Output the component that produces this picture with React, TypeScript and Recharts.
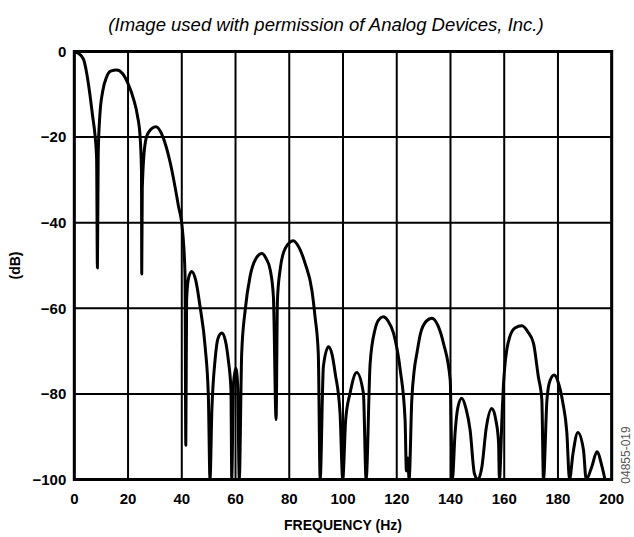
import React from 'react';
import {
    CartesianGrid,
    Line,
    LineChart,
    ReferenceArea,
    XAxis,
    YAxis,
} from 'recharts';

// frequency (Hz) and response (dB)
const freqs = [
    0, 1.5, 3.4, 4.6, 5.8, 6.8, 7.7, 8.3, 8.6, 8.9, 9.5, 10.5, 12, 13.5, 15.8, 18, 20, 22, 23.5, 24.5,
    25, 25.1, 25.3, 26.3, 27.5, 30.4, 33, 35.6, 38.7, 40.3, 41.2, 41.5, 41.8, 42.5, 43.7, 45.2, 46.8, 48.7, 49.9, 50.5,
    51.2, 52.4, 53.5, 54.9, 56.2, 57.3, 58.3, 58.6, 59.2, 60.1, 60.8, 61.4, 62.3, 63.6, 65.4, 67.5, 69.8, 71.5, 72.9, 74.1,
    75.1, 75.6, 76.6, 78.5, 81.5, 83.8, 85.9, 88.4, 89.6, 90.8, 91.5, 92.7, 94.6, 96, 97.1, 98.9, 99.9, 101, 102.6, 105.1,
    107.6, 108.6, 110.1, 111.9, 113.3, 115, 116.8, 118.8, 121.3, 123.1, 123.6, 124.1, 124.6, 125.6, 126.5, 127.5, 128.8, 131, 133.1, 135.3,
    137.4, 139.9, 140.7, 141.7, 142.8, 144.2, 145.8, 147.3, 148.9, 150.2, 151.7, 153.3, 155.4, 157, 157.9, 158.2, 159.2, 159.7, 160.3, 161,
    162, 164, 166.6, 168.8, 170.9, 172.7, 174, 174.6, 175.9, 177, 178.6, 180.2, 181.8, 183.3, 184.3, 185.6, 187.4, 189.5, 190.5, 192.6,
    194.5, 196.4, 197.5,
];
const gains = [
    0, -0.4, -1.8, -5, -10, -15, -19.5, -25, -50.6, -24, -15, -9.5, -6, -4.6, -4.3, -5.2, -7.5, -11, -15, -20,
    -28, -52, -32, -21.8, -19, -17.6, -20, -25.7, -35.9, -42, -52, -92, -58, -53, -51.4, -53.5, -59.6, -69, -80.7, -100,
    -83.8, -72, -67, -65.8, -67.5, -72, -79, -100, -78, -74, -78, -100, -70.5, -60.4, -52.6, -48.5, -47.2, -48.5, -51, -57.3,
    -86, -58, -51, -46, -44.2, -46, -49.5, -55.7, -62, -70.5, -100, -73.6, -69, -71, -75.2, -84.5, -100, -86, -79.9, -75,
    -79.9, -100, -72.9, -65, -62.7, -62, -63, -65.8, -74.4, -86, -98, -95, -100, -81.4, -74.5, -70.5, -66, -63, -62.3, -64,
    -68.2, -76.8, -100, -89.2, -83, -81, -83.5, -88.4, -98.6, -100, -97, -88, -83.4, -86.5, -91.5, -100, -85, -78, -73, -69.5,
    -66.8, -64.6, -64.1, -65.5, -68.2, -76, -81.4, -100, -81.4, -77, -75.6, -77.5, -82, -89, -100, -93.9, -89, -93.1, -100, -97,
    -93.5, -97, -100,
];

const xTicks = [0, 20, 40, 60, 80, 100, 120, 140, 160, 180, 200];
const yTicks = [0, -20, -40, -60, -80, -100];

const data = freqs.map((f, i) => ({f, db: gains[i]}));

const font = 'Liberation Sans, Arial, Helvetica, sans-serif';

const dbFormatter = (v: number) => (v < 0 ? `\u2212${-v}` : `${v}`);

export default function App() {
    return (
        <div style={{position: 'absolute', left: 0, top: 0, width: 634, height: 537, background: '#fff'}}>
            <LineChart
                width={634}
                height={537}
                data={data}
                margin={{top: 51.5, right: 22.3, bottom: 27.5, left: 0}}
            >
                <CartesianGrid stroke="#000" strokeWidth={2} horizontalValues={yTicks} verticalValues={xTicks}/>
                <XAxis
                    dataKey="f"
                    type="number"
                    domain={[0, 200]}
                    ticks={xTicks}
                    height={30}
                    axisLine={false}
                    tickLine={false}
                    tickMargin={8}
                    tick={{fill: '#000', fontSize: 15, fontWeight: 700, fontFamily: font}}
                />
                <YAxis
                    type="number"
                    domain={[-100, 0]}
                    ticks={yTicks}
                    width={74.3}
                    allowDataOverflow
                    axisLine={false}
                    tickLine={false}
                    tickFormatter={dbFormatter}
                    tick={{fill: '#000', fontSize: 15, fontWeight: 700, fontFamily: font}}
                />
                <ReferenceArea x1={0} x2={200} y1={-100} y2={0} fill="none" stroke="#000" strokeWidth={3}/>
                <Line
                    dataKey="db"
                    type="monotone"
                    stroke="#000"
                    strokeWidth={3}
                    strokeLinejoin="round"
                    dot={false}
                    isAnimationActive={false}
                />
            </LineChart>
            <svg width={634} height={537} style={{position: 'absolute', left: 0, top: 0, pointerEvents: 'none'}}>
                <text x={326} y={31} textAnchor="middle" fontFamily={font} fontStyle="italic" fontSize={18.5} fill="#000">
                    (Image used with permission of Analog Devices, Inc.)
                </text>
                <text x={343} y={530} textAnchor="middle" fontFamily={font} fontWeight={700} fontSize={14} fill="#000">
                    FREQUENCY (Hz)
                </text>
                <text x={20} y={265.5} textAnchor="middle" fontFamily={font} fontWeight={700} fontSize={14} fill="#000"
                      transform="rotate(-90 20 265.5)">
                    (dB)
                </text>
                <text x={630} y={455} textAnchor="middle" fontFamily={font} fontSize={12} fill="#555"
                      transform="rotate(-90 630 455)">
                    04855-019
                </text>
            </svg>
        </div>
    );
}
